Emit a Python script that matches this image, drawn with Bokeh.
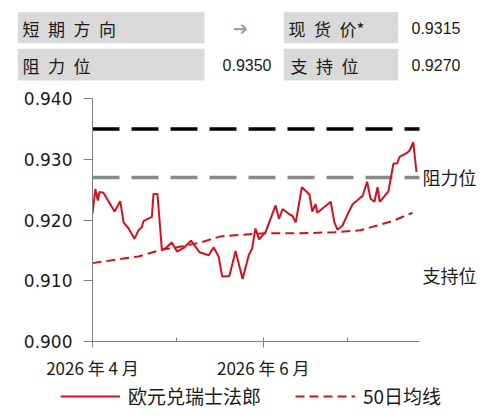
from bokeh.plotting import figure
from bokeh.models import (Range1d, FixedTicker, NumeralTickFormatter, Label,
                          Legend, LegendItem)
from bokeh.layouts import column
from bokeh.embed import file_html
from bokeh.resources import INLINE
from bokeh.core.properties import value

# ---------------- data ----------------
# day offsets from 2026-04-01
days = [0.0, 1.0, 1.9, 2.5, 3.9, 7.9, 9.9, 11.1, 12.9, 15.0, 16.4, 17.6, 18.2, 21.2,
        21.8, 23.2, 24.8, 26.5, 28.3, 30.2, 32.6, 35.2, 38.2, 41.5, 43.3, 45.1, 46.3,
        48.9, 51.1, 53.6, 55.8, 57.0, 58.2, 59.5, 61.9, 63.6, 65.4, 66.6, 67.9, 70.4,
        71.4, 72.6, 74.8, 77.5, 78.5, 79.7, 80.3, 85.1, 86.4, 87.5, 89.3, 91.2, 92.9,
        94.5, 96.5, 98.1, 99.3, 100.7, 101.8, 102.6, 105.7, 106.4, 107.5, 108.8, 109.7,
        112.2, 113.2, 114.6, 115.7]
eurchf = [0.9210, 0.9251, 0.9232, 0.9246, 0.9245, 0.9214, 0.9231, 0.9196, 0.9186,
          0.9169, 0.9183, 0.9188, 0.9198, 0.9205, 0.9243, 0.9243, 0.9150, 0.9155,
          0.9163, 0.9148, 0.9154, 0.9166, 0.9147, 0.9142, 0.9155, 0.9139, 0.9107,
          0.9108, 0.9149, 0.9103, 0.9142, 0.9153, 0.9186, 0.9168, 0.9181, 0.9202,
          0.9224, 0.9202, 0.9218, 0.9209, 0.9207, 0.9196, 0.9254, 0.9242, 0.9214,
          0.9226, 0.9212, 0.9230, 0.9196, 0.9184, 0.9191, 0.9210, 0.9226, 0.9232,
          0.9240, 0.9263, 0.9235, 0.9230, 0.9254, 0.9230, 0.9247, 0.9265, 0.9293,
          0.9293, 0.9304, 0.9310, 0.9314, 0.9328, 0.9279]
ma_days = [0.0, 16.4, 25.5, 27.9, 38.6, 45.7, 57.0, 61.8, 74.3, 86.4, 95.7, 101.7,
           107.6, 114.3]
ma50 = [0.9129, 0.9140, 0.9152, 0.9153, 0.9163, 0.9173, 0.9177, 0.9178, 0.9178,
        0.9180, 0.9183, 0.9191, 0.9199, 0.9212]

x_end = 116.8            # last day shown on the time axis
resistance_level = 0.935
support_level = 0.927
label_resist_y = 0.927
label_support_y = 0.9109

month_ticks = [0, 61]
month_minor = [30, 91]
month_labels = {0: "2026 年 4 月", 61: "2026 年 6 月"}
y_ticks = [0.90, 0.91, 0.92, 0.93, 0.94]

SP = "\u2002"
header_names = [SP.join("短期方向"), SP.join("现货价") + "*", SP.join("阻力位"), SP.join("支持位")]
spot_text = "0.9315"
resist_text = "0.9350"
support_text = "0.9270"
direction = "➔"

series_names = ["欧元兑瑞士法郎", "50日均线"]

RED = "#d4101e"
TXT = "#1a1a1a"
W = 487
NAN = float("nan")


def no_align(fig):
    if "frame_align" in fig.properties():
        fig.frame_align = False


# ---------------- header (pixel layout) ----------------
HH = 86
h = figure(width=W, height=HH, x_range=Range1d(0, W), y_range=Range1d(HH, 0),
           x_axis_type=None, y_axis_type=None, min_border=0,
           toolbar_location=None, output_backend="svg")
h.grid.visible = False
h.outline_line_color = None
no_align(h)
h.quad(left=[17.3, 283.3, 17.3, 283.3], right=[204, 397.7, 204, 397.7],
       top=[11.7, 11.7, 48.3, 48.3], bottom=[42.7, 42.7, 80, 80],
       fill_color="#d9d9d9", line_color=None)
h.text(x=[22, 288, 22, 290], y=[27.5, 27.5, 64.5, 64.5], text=header_names,
       text_font=value("Noto Sans CJK SC"), text_font_size="17px",
       text_baseline="middle", text_align="left", text_color=TXT)
h.text(x=[411, 411], y=[27.5, 64.5], text=[spot_text, support_text],
       text_font=value("Liberation Sans"), text_font_size="16px",
       text_baseline="middle", text_align="left", text_color=TXT)
h.text(x=[271], y=[64.5], text=[resist_text],
       text_font=value("Liberation Sans"), text_font_size="16px",
       text_baseline="middle", text_align="right", text_color=TXT)
h.text(x=[240], y=[27.5], text=[direction],
       text_font=value("DejaVu Sans"), text_font_size="18px",
       text_baseline="middle", text_align="center", text_color="#a0a0a0")

# ---------------- chart ----------------
FL, FR = 92, 482          # frame edges (px); time axis spans 92..419
x_range_end = x_end * (FR - FL) / (419 - FL)
CH = 296
p = figure(width=W, height=CH, x_range=Range1d(0, x_range_end),
           y_range=Range1d(0.9, 0.94),
           min_border_left=FL, min_border_right=W - FR, min_border_top=12,
           min_border_bottom=41, toolbar_location=None, output_backend="svg")
p.grid.visible = False
p.outline_line_color = None
no_align(p)

p.line([0, x_end], [resistance_level, resistance_level], line_color="black",
       line_width=3.5, line_dash="27 12")
p.line([0, x_end], [support_level, support_level], line_color="#8a8a8a",
       line_width=3.5, line_dash="27 12")

r1 = p.line(days, eurchf, line_color=RED, line_width=2)
r2 = p.line(ma_days, ma50, line_color=RED, line_width=2, line_dash="9 5")

for txt, yy in [("阻力位", label_resist_y), ("支持位", label_support_y)]:
    p.add_layout(Label(x=x_end + 1.1, y=yy, text=txt,
                       text_font="Noto Sans CJK SC", text_font_size="18px",
                       text_baseline="middle", text_color=TXT))

xa = p.xaxis[0]
xa.bounds = (0, x_end)
xa.ticker = FixedTicker(ticks=month_ticks, minor_ticks=month_minor)
xa.major_label_overrides = month_labels
xa.axis_line_color = "#808080"
xa.major_tick_line_color = "#808080"
xa.minor_tick_line_color = "#808080"
xa.major_tick_in = 4
xa.major_tick_out = 6
xa.minor_tick_in = 4
xa.minor_tick_out = 0
xa.major_label_standoff = 7
xa.major_label_text_font = "Noto Sans CJK SC"
xa.major_label_text_font_size = "17px"
xa.major_label_text_color = TXT

ya = p.yaxis[0]
ya.ticker = FixedTicker(ticks=y_ticks)
ya.formatter = NumeralTickFormatter(format="0.000")
ya.axis_line_color = "#808080"
ya.major_tick_line_color = "#808080"
ya.minor_tick_line_color = None
ya.major_tick_in = 0
ya.major_tick_out = 9
ya.major_label_standoff = 11
ya.major_label_text_font = "DejaVu Sans"
ya.major_label_text_font_size = "17px"
ya.major_label_text_color = TXT

# ---------------- legend strip ----------------
LH = 417 - HH - CH
lg = figure(width=W, height=LH, x_range=Range1d(0, 1), y_range=Range1d(0, 1),
            x_axis_type=None, y_axis_type=None, min_border=0,
            toolbar_location=None, output_backend="svg")
lg.grid.visible = False
lg.outline_line_color = None
no_align(lg)
k1 = lg.line(x=[NAN], y=[NAN], line_color=RED, line_width=2)
k2 = lg.line(x=[NAN], y=[NAN], line_color=RED, line_width=2, line_dash="9 5")
legend = Legend(items=[LegendItem(label=series_names[0], renderers=[k1]),
                       LegendItem(label=series_names[1], renderers=[k2])],
                orientation="horizontal", location=(60, 8),
                border_line_color=None, background_fill_alpha=0,
                padding=0, margin=0, glyph_width=60, glyph_height=20,
                label_standoff=8, spacing=34,
                label_text_font="Noto Sans CJK SC", label_text_font_size="19px",
                label_text_color=TXT)
lg.add_layout(legend, "center")

layout = column(h, p, lg, spacing=0)
open("out.html", "w").write(file_html(layout, INLINE))
